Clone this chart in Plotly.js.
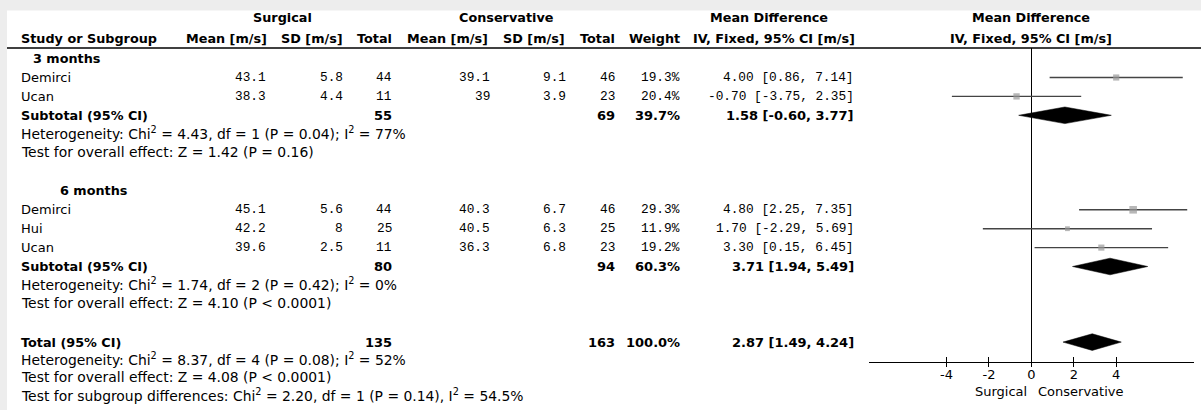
<!DOCTYPE html>
<html>
<head>
<meta charset="utf-8">
<script src="https://cdn.plot.ly/plotly-3.0.1.min.js"></script>
<style>
  html, body { margin: 0; padding: 0; background: #ededed; }
  #chart { width: 1201px; height: 410px; }
</style>
</head>
<body>
<div id="chart"></div>
<script>
// ---- Study data: surgical vs conservative, mean difference (IV, fixed) ----
const subgroupLabels = ['3 months', '6 months'];
const studyLabels = ['Demirci', 'Ucan', 'Demirci', 'Hui', 'Ucan'];
const studyGroup = [0, 0, 1, 1, 1];
const surgMean = [43.1, 38.3, 45.1, 42.2, 39.6];
const surgSD = [5.8, 4.4, 5.6, 8, 2.5];
const surgN = [44, 11, 44, 25, 11];
const consMean = [39.1, 39, 40.3, 40.5, 36.3];
const consSD = [9.1, 3.9, 6.7, 6.3, 6.8];
const consN = [46, 23, 46, 25, 23];
const studyWeight = [19.3, 20.4, 29.3, 11.9, 19.2];
const studyMD = [4.00, -0.70, 4.80, 1.70, 3.30];
const studyLow = [0.86, -3.75, 2.25, -2.29, 0.15];
const studyHigh = [7.14, 2.35, 7.35, 5.69, 6.45];

// subgroup subtotals
const subN1 = [55, 80];
const subN2 = [69, 94];
const subWeight = [39.7, 60.3];
const subMD = [1.58, 3.71];
const subLow = [-0.60, 1.94];
const subHigh = [3.77, 5.49];
const subHet = [
  'Heterogeneity: Chi<sup>2</sup> = 4.43, df = 1 (P = 0.04); I<sup>2</sup> = 77%',
  'Heterogeneity: Chi<sup>2</sup> = 1.74, df = 2 (P = 0.42); I<sup>2</sup> = 0%'
];
const subEffect = [
  'Test for overall effect: Z = 1.42 (P = 0.16)',
  'Test for overall effect: Z = 4.10 (P &lt; 0.0001)'
];

// overall total
const totN1 = 135;
const totN2 = 163;
const totWeight = 100.0;
const totMD = 2.87;
const totLow = 1.49;
const totHigh = 4.24;
const totNotes = [
  'Heterogeneity: Chi<sup>2</sup> = 8.37, df = 4 (P = 0.08); I<sup>2</sup> = 52%',
  'Test for overall effect: Z = 4.08 (P &lt; 0.0001)',
  'Test for subgroup differences: Chi<sup>2</sup> = 2.20, df = 1 (P = 0.14), I<sup>2</sup> = 54.5%'
];

// axis ticks and side labels
const tickVals = [-4, -2, 0, 2, 4];
const tickText = ['-4', '-2', '0', '2', '4'];
const favoursLeft = 'Surgical';
const favoursRight = 'Conservative';

// ---- Layout helpers ----
const W = 1201, H = 410;
const SANS = 'DejaVu Sans, Verdana, sans-serif';
const NUM = 'Liberation Mono, DejaVu Sans Mono, monospace';
const STYLE = {
  label: { family: SANS, size: 13 },
  head: { family: SANS, size: 12.8 },
  note: { family: SANS, size: 13.9 },
  num: { family: NUM, size: 12.8 },
  bnum: { family: SANS, size: 13 }
};
const plotTop = 48, plotBottom = 362.3;
const rowTop = 77.5, rowStep = 18.9;
const px = v => v / W;
const rowY = r => (H - (rowTop + rowStep * r)) / H;
const ann = [];
function txt(xpx, row, text, anchor, kind, bold, yshift) {
  const st = STYLE[kind];
  ann.push({
    xref: 'paper', yref: 'paper', x: px(xpx), y: rowY(row), yshift: yshift || 0,
    text: bold ? '<b>' + text + '</b>' : text,
    xanchor: anchor, yanchor: 'middle', showarrow: false,
    borderpad: 0, borderwidth: 0,
    font: { family: st.family, size: st.size, color: '#000' }
  });
}
const f2 = v => v.toFixed(2);
const ciText = (m, l, h) => f2(m) + ' [' + f2(l) + ', ' + f2(h) + ']';

// column anchors (pixels)
const C = { name: 21, sMean: 266, sSD: 343, sN: 392, cMean: 490, cSD: 566, cN: 615, wt: 680, ci: 854, plot: 1031 };

// header rows
const hdr1 = -3.2, hdr2 = -2.04;
txt(282, hdr1, 'Surgical', 'center', 'head', true);
txt(506, hdr1, 'Conservative', 'center', 'head', true);
txt(769, hdr1, 'Mean Difference', 'center', 'head', true);
txt(C.plot, hdr1, 'Mean Difference', 'center', 'head', true);
txt(C.name, hdr2, 'Study or Subgroup', 'left', 'head', true);
txt(C.sMean + 1, hdr2, 'Mean [m/s]', 'right', 'head', true);
txt(C.sSD, hdr2, 'SD [m/s]', 'right', 'head', true);
txt(C.sN, hdr2, 'Total', 'right', 'head', true);
txt(C.cMean - 2, hdr2, 'Mean [m/s]', 'right', 'head', true);
txt(C.cSD - 1, hdr2, 'SD [m/s]', 'right', 'head', true);
txt(C.cN, hdr2, 'Total', 'right', 'head', true);
txt(C.wt, hdr2, 'Weight', 'right', 'head', true);
txt(C.ci + 1, hdr2, 'IV, Fixed, 95% CI [m/s]', 'right', 'head', true);
txt(C.plot, hdr2, 'IV, Fixed, 95% CI [m/s]', 'center', 'head', true);

// body rows
const studyRow = [];
const subRow = [];
const groupIndent = [33, 60];
let row = -1;
subgroupLabels.forEach((g, gi) => {
  txt(groupIndent[gi], row, g, 'left', 'head', true);
  row += 1;
  studyLabels.forEach((s, i) => {
    if (studyGroup[i] !== gi) return;
    studyRow[i] = row;
    txt(C.name, row, s, 'left', 'label', false);
    txt(C.sMean, row, String(surgMean[i]), 'right', 'num', false);
    txt(C.sSD, row, String(surgSD[i]), 'right', 'num', false);
    txt(C.sN, row, String(surgN[i]), 'right', 'num', false);
    txt(C.cMean, row, String(consMean[i]), 'right', 'num', false);
    txt(C.cSD, row, String(consSD[i]), 'right', 'num', false);
    txt(C.cN, row, String(consN[i]), 'right', 'num', false);
    txt(C.wt, row, studyWeight[i].toFixed(1) + '%', 'right', 'num', false);
    txt(C.ci, row, ciText(studyMD[i], studyLow[i], studyHigh[i]), 'right', 'num', false);
    row += 1;
  });
  subRow[gi] = row;
  txt(C.name, row, 'Subtotal (95% CI)', 'left', 'head', true);
  txt(C.sN, row, String(subN1[gi]), 'right', 'bnum', true);
  txt(C.cN, row, String(subN2[gi]), 'right', 'bnum', true);
  txt(C.wt, row, subWeight[gi].toFixed(1) + '%', 'right', 'bnum', true);
  txt(C.ci, row, ciText(subMD[gi], subLow[gi], subHigh[gi]), 'right', 'bnum', true);
  txt(C.name, row + 1, subHet[gi], 'left', 'note', false, 1);
  txt(C.name, row + 2, subEffect[gi], 'left', 'note', false, 1);
  row += 4;
});
row -= 1;
const totRow = row + 1;
txt(C.name, totRow, 'Total (95% CI)', 'left', 'head', true);
txt(C.sN, totRow, String(totN1), 'right', 'bnum', true);
txt(C.cN, totRow, String(totN2), 'right', 'bnum', true);
txt(C.wt, totRow, totWeight.toFixed(1) + '%', 'right', 'bnum', true);
txt(C.ci, totRow, ciText(totMD, totLow, totHigh), 'right', 'bnum', true);
totNotes.forEach((t, k) => txt(C.name, totRow + 1 + k, t, 'left', 'note', false, 2 + k));

// favours labels under the axis
const favY = (H - 391) / H;
ann.push({ xref: 'x', yref: 'paper', x: 0, y: favY, xshift: -4, text: favoursLeft,
  xanchor: 'right', yanchor: 'middle', showarrow: false, borderpad: 0, borderwidth: 0,
  font: { family: SANS, size: 13, color: '#000' } });
ann.push({ xref: 'x', yref: 'paper', x: 0, y: favY, xshift: 7, text: favoursRight,
  xanchor: 'left', yanchor: 'middle', showarrow: false, borderpad: 0, borderwidth: 0,
  font: { family: SANS, size: 13, color: '#000' } });

// ---- Traces ----
const traces = [];
// study estimates: square sized by weight, CI whiskers
traces.push({
  type: 'scatter', mode: 'markers',
  x: studyMD, y: studyRow,
  marker: { symbol: 'square', color: '#999999', size: studyWeight.map(w => Math.sqrt(w) * 1.4), line: { width: 0 } },
  error_x: {
    type: 'data', symmetric: false,
    array: studyMD.map((m, i) => studyHigh[i] - m),
    arrayminus: studyMD.map((m, i) => m - studyLow[i]),
    color: '#444444', thickness: 1.4, width: 0
  },
  hoverinfo: 'skip', showlegend: false, cliponaxis: false
});
// pooled diamonds
const dh = 0.44;
function diamond(m, l, h, r) {
  traces.push({
    type: 'scatter', mode: 'lines', fill: 'toself', fillcolor: '#000',
    x: [l, m, h, m, l], y: [r, r - dh, r, r + dh, r],
    line: { width: 0.5, color: '#000' }, hoverinfo: 'skip', showlegend: false
  });
}
subMD.forEach((m, gi) => diamond(m, subLow[gi], subHigh[gi], subRow[gi]));
diamond(totMD, totLow, totHigh, totRow);
// carrier trace for the overlaid tick axis
traces.push({ type: 'scatter', x: [0], y: [0], xaxis: 'x2', yaxis: 'y', mode: 'none', hoverinfo: 'skip', showlegend: false });

// ---- Axes ----
const xDomain = [869 / W, 1194 / W];
const xRange = [-7.66, 7.67];
const layout = {
  width: W, height: H,
  margin: { l: 0, r: 0, t: 0, b: 0 },
  paper_bgcolor: '#ededed',
  plot_bgcolor: 'rgba(0,0,0,0)',
  font: { family: SANS, size: 13, color: '#000' },
  xaxis: {
    domain: xDomain, range: xRange,
    showgrid: false, zeroline: true, zerolinecolor: '#000', zerolinewidth: 1,
    showline: true, linecolor: '#000', linewidth: 1,
    ticks: 'inside', ticklen: 5, tickcolor: '#000', tickwidth: 1,
    tickmode: 'array', tickvals: tickVals, ticktext: tickText,
    tickfont: { family: SANS, size: 13, color: '#000' },
    ticklabelstandoff: 0, fixedrange: true
  },
  xaxis2: {
    overlaying: 'x', anchor: 'y', domain: xDomain, range: xRange,
    showgrid: false, zeroline: false, showline: false,
    ticks: 'outside', ticklen: 4, tickcolor: '#000', tickwidth: 1,
    tickmode: 'array', tickvals: tickVals, showticklabels: false, fixedrange: true
  },
  yaxis: {
    domain: [(H - plotBottom) / H, (H - plotTop) / H],
    range: [(plotBottom - rowTop) / rowStep, (plotTop - rowTop) / rowStep],
    visible: false, showgrid: false, zeroline: false, fixedrange: true
  },
  shapes: [
    { type: 'rect', xref: 'paper', yref: 'paper', x0: 7 / W, x1: 1, y0: 0, y1: (H - 10.5) / H,
      fillcolor: '#ffffff', line: { width: 0 }, layer: 'below' },
    { type: 'line', xref: 'paper', yref: 'paper', x0: 7 / W, x1: 1, y0: (H - plotTop) / H, y1: (H - plotTop) / H,
      line: { color: '#000', width: 1.5 } }
  ],
  annotations: ann
};

Plotly.newPlot('chart', traces, layout, { staticPlot: true, displayModeBar: false });
</script>
</body>
</html>
